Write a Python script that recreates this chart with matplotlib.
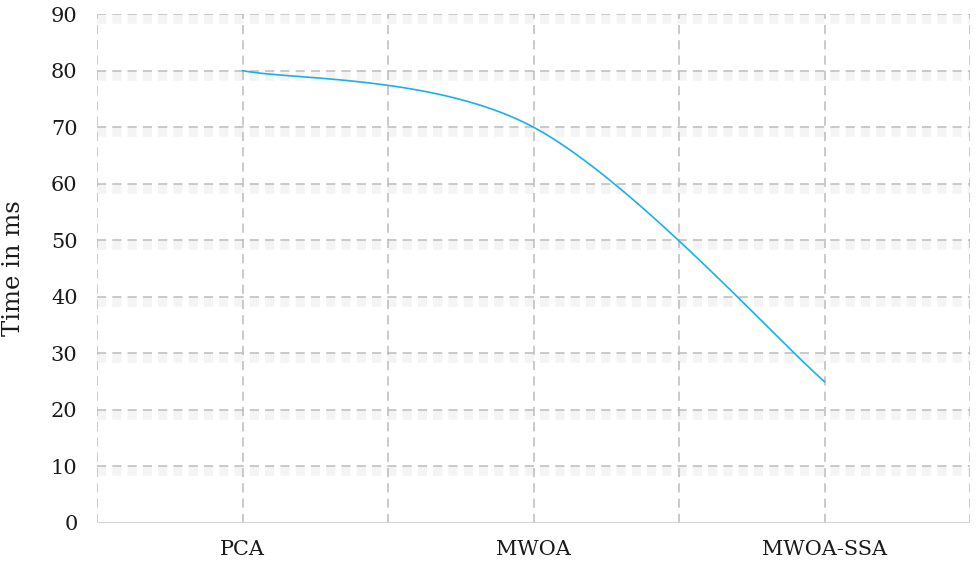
import numpy as np
import matplotlib
matplotlib.use("Agg")
import matplotlib.pyplot as plt
import matplotlib.patheffects as pe

categorias = ["PCA", "MWOA", "MWOA-SSA"]
posicoes = [1, 3, 5]
tempos = [80, 70, 25]

plt.rcParams["font.family"] = ["DejaVu Serif", "Liberation Serif"]

fig = plt.figure(figsize=(9.8, 5.64), dpi=100)
ax = fig.add_axes([0.099, 0.0727, 0.8908, 0.9023])

# grade com sombra
sombra = [pe.SimpleLineShadow(offset=(0, -3.5), shadow_color="#000000", alpha=0.045, linewidth=7),
          pe.Normal()]
for yv in range(10, 100, 10):
    ax.axhline(yv, color="#bcbcbc", lw=1.1, ls=(0, (6, 4)), zorder=1, path_effects=sombra)
for xv in range(0, 7):
    ax.axvline(xv, color="#bcbcbc", lw=1.1, ls=(0, (6, 4)), zorder=1)
ax.axhline(0, color="#d0d0d0", lw=1.3, zorder=1)

# linha suavizada (bezier estilo Excel)
px = np.array(posicoes, dtype=float)
py = np.array(tempos, dtype=float)
xs, ys = [], []
t = np.linspace(0, 1, 60)
for i in range(len(px) - 1):
    p0 = np.array([px[max(i - 1, 0)], py[max(i - 1, 0)]])
    p1 = np.array([px[i], py[i]])
    p2 = np.array([px[i + 1], py[i + 1]])
    p3 = np.array([px[min(i + 2, len(px) - 1)], py[min(i + 2, len(px) - 1)]])
    c1 = p1 + (p2 - p0) / 6
    c2 = p2 - (p3 - p1) / 6
    b = ((1 - t) ** 3)[:, None] * p1 + (3 * (1 - t) ** 2 * t)[:, None] * c1 \
        + (3 * (1 - t) * t ** 2)[:, None] * c2 + (t ** 3)[:, None] * p2
    xs.extend(b[:, 0])
    ys.extend(b[:, 1])
ax.plot(xs, ys, color="#1cb0ea", lw=1.2, zorder=3)

ax.set_xlim(0, 6)
ax.set_ylim(0, 90)
ax.set_yticks(range(0, 100, 10))
ax.set_xticks(posicoes)
ax.set_xticklabels(categorias)
ax.tick_params(axis="both", length=0, labelsize=15, colors="#1a1a1a")
ax.tick_params(axis="y", pad=14)
ax.tick_params(axis="x", pad=12)
for s in ax.spines.values():
    s.set_visible(False)

ax.set_ylabel("Time in ms", fontsize=17.5, color="#1a1a1a")
ax.yaxis.set_label_coords(-0.083, 0.5)

plt.savefig("out.png", dpi=100)
